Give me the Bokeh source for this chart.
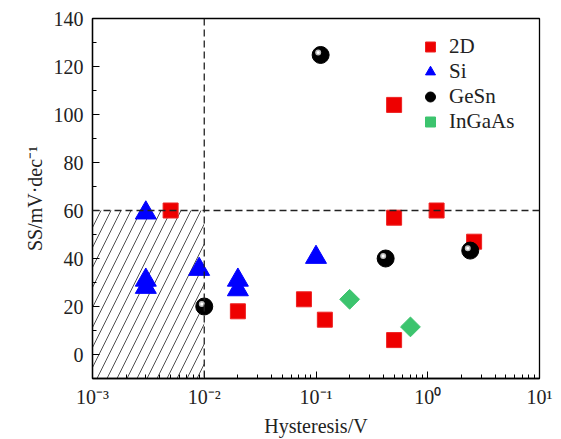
import numpy as np
from bokeh.plotting import figure
from bokeh.models import (Span, Legend, LegendItem, CustomJSTickFormatter, LogTicker)
from bokeh.embed import file_html
from bokeh.resources import INLINE

# ---- data ----
d2_x = [0.005, 0.02, 0.078, 0.12, 0.5, 0.5, 0.5, 1.2, 2.6]
d2_y = [60, 18, 23, 14.5, 104, 57, 6, 60, 47]

si_x = [0.003, 0.003, 0.003, 0.009, 0.02, 0.02, 0.1]
si_y = [59, 31, 28, 35.5, 31, 27, 40.5]

gesn_x = [0.01, 0.11, 0.42, 2.4]
gesn_y = [20, 124.8, 40, 43.3]

ingaas_x = [0.2, 0.7]
ingaas_y = [23, 11.5]

x_threshold = 0.01
y_threshold = 60

FONT = "Liberation Serif"

p = figure(width=561, height=439, x_axis_type="log",
           x_range=(1e-3, 1e1), y_range=(-10, 140),
           output_backend="svg", toolbar_location=None,
           min_border_left=92, min_border_right=22,
           min_border_top=18, min_border_bottom=60)
p.xgrid.visible = False
p.ygrid.visible = False
p.outline_line_color = "black"
p.outline_line_width = 1.3
p.background_fill_color = "white"

# hatched region
p.quad(left=[1e-3], right=[x_threshold], bottom=[-10], top=[y_threshold],
       fill_alpha=0, line_alpha=0, hatch_pattern="/", hatch_color="#222222",
       hatch_weight=0.8, hatch_scale=20, hatch_alpha=1.0)

p.add_layout(Span(location=x_threshold, dimension="height", line_dash="7 4",
                  line_color="#222222", line_width=1.3))
p.add_layout(Span(location=y_threshold, dimension="width", line_dash="7 4",
                  line_color="#222222", line_width=1.3))

r_2d = p.scatter(d2_x, d2_y, marker="square", size=15, fill_color="#ee0000",
                 line_color="#ee2222")
r_si = p.scatter(si_x, si_y, marker="triangle", size=21, fill_color="#0000ff",
                 line_color="#0000ff")
r_ge = p.scatter(gesn_x, gesn_y, marker="circle", size=17, fill_color="black",
                 line_color="black")
hx = np.array(gesn_x) * 10 ** (-0.022)
hy = np.array(gesn_y) + 1.0
r_ge2 = p.scatter(hx, hy, marker="circle", size=6, fill_color="#bbbbbb",
                  line_color=None)
r_ge3 = p.scatter(hx, hy, marker="circle", size=3, fill_color="white",
                  line_color=None)
r_in = p.scatter(ingaas_x, ingaas_y, marker="square", angle=np.pi / 4, size=14,
                 fill_color="#3cc46e", line_color="#3cc46e")

legend = Legend(items=[
    LegendItem(label="2D", renderers=[r_2d]),
    LegendItem(label="Si", renderers=[r_si]),
    LegendItem(label="GeSn", renderers=[r_ge]),
    LegendItem(label="InGaAs", renderers=[r_in]),
], location="top_right")
legend.border_line_color = None
legend.background_fill_alpha = 0
legend.label_text_font = FONT
legend.label_text_font_size = "21px"
legend.label_text_color = "#222222"
legend.glyph_width = 30
legend.glyph_height = 25
legend.label_standoff = 4
legend.label_width = 74
legend.spacing = 0
legend.margin = 16
legend.padding = 12
p.add_layout(legend)

sup = CustomJSTickFormatter(code="""
const m = {'-':'\u207b','0':'\u2070','1':'\u00b9','2':'\u00b2','3':'\u00b3','4':'\u2074'};
const e = String(Math.round(Math.log10(tick)));
return '10' + e.split('').map(c => m[c]).join('');
""")
p.xaxis.formatter = sup
p.xaxis.ticker = LogTicker(num_minor_ticks=10)
p.yaxis.ticker.num_minor_ticks = 2

for ax in (p.xaxis[0], p.yaxis[0]):
    ax.major_tick_in = 7
    ax.major_tick_out = 0
    ax.minor_tick_in = 4
    ax.minor_tick_out = 0
    ax.axis_line_color = "black"
    ax.axis_line_width = 1.3
    ax.major_tick_line_color = "black"
    ax.minor_tick_line_color = "black"
    ax.major_label_text_font = FONT
    ax.major_label_text_font_size = "20px"
    ax.major_label_text_color = "#222222"
    ax.axis_label_text_font = FONT
    ax.axis_label_text_font_size = "20px"
    ax.axis_label_text_font_style = "normal"
    ax.axis_label_text_color = "#222222"

p.xaxis.axis_label = "Hysteresis/V"
p.yaxis.axis_label = "SS/mV\u00b7dec\u207b\u00b9"
p.xaxis.major_label_standoff = 7
p.yaxis.major_label_standoff = 9
p.xaxis.axis_label_standoff = 4
p.yaxis.axis_label_standoff = 5

open("out.html", "w").write(file_html(p, INLINE))
